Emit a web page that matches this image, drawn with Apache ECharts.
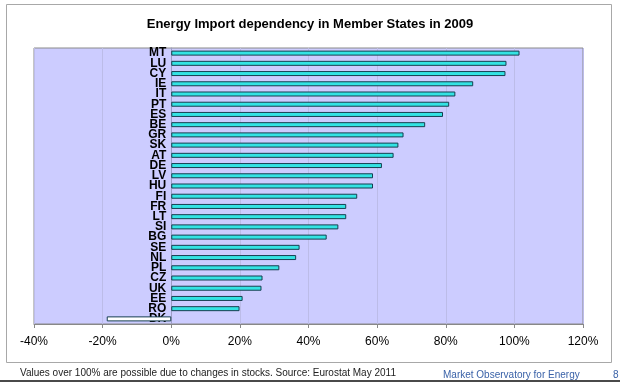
<!DOCTYPE html>
<html>
<head>
<meta charset="utf-8">
<script src="https://cdn.jsdelivr.net/npm/echarts@6/dist/echarts.min.js"></script>
<style>
html,body{margin:0;padding:0;background:#fff;}
#c{width:620px;height:382px;}
</style>
</head>
<body>
<div id="c"></div>
<script>
const countries = ["MT","LU","CY","IE","IT","PT","ES","BE","GR","SK","AT","DE","LV","HU","FI","FR","LT","SI","BG","SE","NL","PL","CZ","UK","EE","RO","DK"];
const dependency = [101.5,97.7,97.4,88.0,82.8,81.0,79.2,74.0,67.7,66.2,64.8,61.4,58.8,58.8,54.2,51.0,51.0,48.7,45.3,37.4,36.4,31.5,26.6,26.3,20.8,19.9,-18.8];
const tickValues = [-40,-20,0,20,40,60,80,100,120];
const titleText = "Energy Import dependency in Member States in 2009";
const footnote = "Values over 100% are possible due to changes in stocks. Source: Eurostat May 2011";
const footerRight = "Market Observatory for Energy";

const chart = echarts.init(document.getElementById('c'), null, {renderer:'canvas'});
const font = 'Liberation Sans, Arial, sans-serif';
const barData = dependency.map((v,i)=> v < 0 ? {value:v, itemStyle:{color:'#ffffff'}} : v);

const gridLeft = 34, gridRight = 37, W = 620;
const plotW = W - gridLeft - gridRight;
const xMin = tickValues[0], xMax = tickValues[tickValues.length-1];
const zeroOffset = plotW * (0 - xMin) / (xMax - xMin);

chart.setOption({
  animation:false,
  backgroundColor:'#ffffff',
  title:{
    text:titleText, left:'center', top:13,
    textStyle:{fontFamily:font, fontSize:13, fontWeight:'bold', color:'#000'}
  },
  grid:{
    left:gridLeft, right:gridRight, top:48, bottom:58,
    show:true, backgroundColor:'#ccccff', borderColor:'#8a8a8a', borderWidth:1,
    containLabel:false
  },
  xAxis:{
    type:'value', min:xMin, max:xMax, interval:20,
    axisLine:{show:true, lineStyle:{color:'#888'}},
    axisTick:{show:true, length:4, lineStyle:{color:'#888'}},
    splitLine:{show:true, lineStyle:{color:'#bcbce8', width:1}},
    axisLabel:{formatter:'{value}%', fontFamily:font, fontSize:12, color:'#000', margin:12}
  },
  yAxis:{
    type:'category', inverse:true, data:countries, position:'left',
    offset:-zeroOffset,
    axisLine:{show:true, onZero:false, lineStyle:{color:'#9d9dc4'}},
    axisTick:{show:false},
    axisLabel:{interval:0, fontFamily:font, fontSize:12, fontWeight:'bold', color:'#000', margin:5, lineHeight:10, hideOverlap:false}
  },
  series:[{
    type:'bar', data:barData, barWidth:5,
    itemStyle:{color:'#33e3e3', borderColor:'#173f50', borderWidth:1}
  }],
  graphic:[
    {type:'rect', shape:{x:6.5,y:4.5,width:605,height:358}, style:{fill:null, stroke:'#a8a8a8', lineWidth:1}, z:-10, silent:true},
    {type:'text', left:20, top:368, style:{text:footnote, fontFamily:font, fontSize:10, fill:'#222'}},
    {type:'text', left:443, top:370, style:{text:footerRight, fontFamily:font, fontSize:10, fill:'#3a62a8'}},
    {type:'text', left:613, top:370, style:{text:'8', fontFamily:font, fontSize:10, fill:'#3a62a8'}},
    {type:'rect', shape:{x:0,y:380,width:620,height:2}, style:{fill:'#4a4a4a'}, silent:true}
  ]
});
</script>
</body>
</html>
